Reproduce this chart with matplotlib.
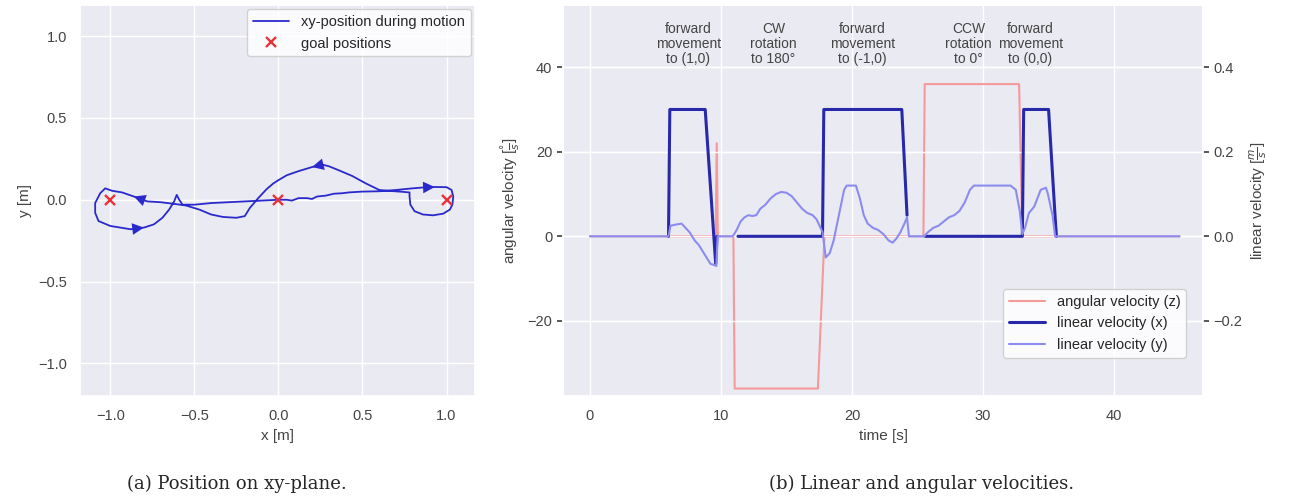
import numpy as np
import matplotlib
matplotlib.use('Agg')
import matplotlib.pyplot as plt
import seaborn as sns

sns.set_theme(style='darkgrid')
plt.rcParams['font.family'] = ['Liberation Sans', 'DejaVu Sans']

# xy trajectory (odometry), in order of travel
path_x = [0.0, 0.05, 0.08, 0.12, 0.17, 0.2, 0.23, 0.28, 0.33, 0.38, 0.42, 0.5, 0.6, 0.7, 0.8, 0.86, 0.93, 1.0,
          1.03, 1.04, 1.035, 1.02, 0.98, 0.92, 0.86, 0.81, 0.785, 0.78, 0.78,
          0.72, 0.65, 0.6, 0.52, 0.44, 0.36, 0.3, 0.26, 0.2, 0.12, 0.05, 0.0, -0.03, -0.07, -0.12, -0.17, -0.2,
          -0.25, -0.33, -0.4, -0.47, -0.55, -0.62, -0.7, -0.78, -0.86, -0.93, -0.99, -1.03,
          -1.06, -1.09, -1.09, -1.07, -1.0, -0.94, -0.88, -0.8, -0.74, -0.69, -0.65, -0.62, -0.605,
          -0.59, -0.57, -0.5, -0.4, -0.3, -0.2, -0.1, 0.0]
path_y = [0.0, 0.0, -0.005, 0.01, 0.01, 0.005, 0.02, 0.025, 0.037, 0.04, 0.045, 0.05, 0.052, 0.06, 0.07, 0.075, 0.078, 0.077,
          0.06, 0.02, -0.03, -0.06, -0.085, -0.095, -0.09, -0.07, -0.03, 0.02, 0.045,
          0.05, 0.055, 0.06, 0.1, 0.145, 0.18, 0.205, 0.215, 0.2, 0.175, 0.15, 0.12, 0.1, 0.065, 0.01, -0.05, -0.1,
          -0.11, -0.105, -0.09, -0.06, -0.035, -0.025, -0.015, -0.01, 0.02, 0.045, 0.055, 0.07,
          0.04, -0.02, -0.08, -0.13, -0.16, -0.17, -0.18, -0.17, -0.15, -0.11, -0.06, -0.01, 0.03,
          0.0, -0.03, -0.03, -0.02, -0.015, -0.01, -0.005, 0.0]
arrow_idx = [15, 36, 53, 64]  # points where the direction arrows sit

goal_x = [1.0, -1.0, 0.0]
goal_y = [0.0, 0.0, 0.0]

# angular velocity z [deg/s]
t_z = [0, 9.6, 9.68, 9.76, 10.95, 11.05, 17.4, 17.9, 25.45, 25.55, 32.75, 33.0, 45]
w_z = [0, 0, 22, 0, 0, -36, -36, 0, 0, 36, 36, 0, 0]

# linear velocity x [m/s] (nan = not logged)
t_vx = [6.0, 6.1, 8.8, 9.6, 9.7, 9.75, 11.3, 17.75, 17.85, 23.8, 24.2, 24.25, 25.6, 33.0, 33.1, 35.0, 35.5, 35.6]
v_x = [0, 0.3, 0.3, -0.065, 0, np.nan, 0, 0, 0.3, 0.3, 0.05, np.nan, 0, 0, 0.3, 0.3, 0.046, 0]

# linear velocity y [m/s]
t_vy = [0, 6.0, 6.15, 6.6, 7.0, 7.3, 7.6, 8.0, 8.3, 8.6, 9.0, 9.2, 9.5, 9.65, 9.75, 10.9, 11.2, 11.5, 11.8,
        12.1, 12.4, 12.7, 13.0, 13.4, 13.8, 14.2, 14.6, 15.0, 15.4, 15.8, 16.2, 16.6, 17.0, 17.3, 17.6, 17.75,
        18.0, 18.3, 18.6, 19.0, 19.4, 19.6, 20.3, 20.6, 20.9, 21.2, 21.6, 22.0, 22.4, 22.8, 23.1, 23.4, 23.7,
        24.0, 24.2, 24.35, 25.5, 25.8, 26.2, 26.6, 27.0, 27.4, 27.8, 28.2, 28.6, 29.0, 29.3, 32.1, 32.5, 32.8,
        33.0, 33.2, 33.5, 33.9, 34.4, 34.8, 34.95, 35.3, 35.5, 45]
v_y = [0, 0, 0.025, 0.028, 0.03, 0.02, 0.01, -0.01, -0.02, -0.035, -0.055, -0.065, -0.068, -0.07, 0.0, 0.0,
       0.015, 0.035, 0.045, 0.05, 0.048, 0.05, 0.065, 0.075, 0.09, 0.1, 0.105, 0.103, 0.095, 0.08, 0.065, 0.055,
       0.05, 0.04, 0.02, 0.01, -0.05, -0.04, -0.01, 0.05, 0.11, 0.12, 0.12, 0.09, 0.05, 0.03, 0.02, 0.015, 0.005,
       -0.01, -0.015, -0.005, 0.01, 0.03, 0.045, 0.0, 0.0, 0.01, 0.02, 0.025, 0.035, 0.045, 0.05, 0.06, 0.08,
       0.11, 0.12, 0.12, 0.11, 0.06, 0.005, 0.02, 0.055, 0.07, 0.11, 0.115, 0.1, 0.05, 0.0, 0.0]

phase_t = [7.5, 14.0, 20.8, 28.9, 33.6]
phase_labels = ['forward\nmovement\nto (1,0)', 'CW\nrotation\nto 180°', 'forward\nmovement\nto (-1,0)',
                'CCW\nrotation\nto 0°', 'forward\nmovement\nto (0,0)']

txt = '#444444'
fig = plt.figure(figsize=(12.91, 5.04), dpi=100)

# (a) xy-plane
ax1 = fig.add_axes([0.062, 0.214, 0.306, 0.776])
path_col = '#2a2acc'
ax1.plot(path_x, path_y, color=path_col, lw=1.3, label='xy-position during motion')
for i in arrow_idx:
    ax1.annotate('', xy=(path_x[i + 1], path_y[i + 1]), xytext=(path_x[i], path_y[i]),
                 arrowprops=dict(arrowstyle='-|>', color=path_col, lw=0, mutation_scale=21,
                                 shrinkA=0, shrinkB=0))
ax1.plot(goal_x, goal_y, 'x', color='#e8333a', ms=6.5, mew=1.7, ls='none', label='goal positions')
ax1.set_xlim(-1.18, 1.17)
ax1.set_ylim(-1.2, 1.19)
ax1.set_xticks([-1.0, -0.5, 0.0, 0.5, 1.0])
ax1.set_yticks([-1.0, -0.5, 0.0, 0.5, 1.0])
ax1.set_xlabel('x [m]', fontsize=11, color=txt)
ax1.set_ylabel('y [m]', fontsize=11, color=txt)
ax1.tick_params(labelsize=10.5, labelcolor=txt)
ax1.legend(loc='upper right', fontsize=10.5, facecolor='white', framealpha=0.85, borderaxespad=0.3,
           handlelength=2.5)

# (b) velocities
ax2 = fig.add_axes([0.436, 0.214, 0.496, 0.776])
ax3 = ax2.twinx()
l1, = ax2.plot(t_z, w_z, color='#f49a9a', lw=1.5, label='angular velocity (z)')
l2, = ax3.plot(t_vx, v_x, color='#2828aa', lw=2.2, label='linear velocity (x)')
l3, = ax3.plot(t_vy, v_y, color='#8c8cf0', lw=1.5, label='linear velocity (y)')
ax2.set_xlim(-2.06, 46.8)
ax2.set_ylim(-37.8, 54.7)
ax3.set_ylim(-0.378, 0.547)
ax2.set_xticks([0, 10, 20, 30, 40])
ax2.set_yticks([-20, 0, 20, 40])
ax3.set_yticks([-0.2, 0.0, 0.2, 0.4])
ax2.set_xlabel('time [s]', fontsize=11, color=txt)
ax2.set_ylabel(r'angular velocity [$\frac{°}{s}$]', fontsize=11, color=txt)
ax3.set_ylabel(r'linear velocity [$\frac{m}{s}$]', fontsize=11, color=txt)
ax2.tick_params(labelsize=10.5, labelcolor=txt)
ax2.tick_params(axis='y', length=4, color=txt)
ax3.tick_params(axis='y', labelsize=10.5, labelcolor=txt, length=4, color=txt)
for t, lab in zip(phase_t, phase_labels):
    ax2.text(t, 40.3, lab, ha='center', va='bottom', fontsize=10, color=txt, linespacing=1.1)
ax3.legend(handles=[l1, l2, l3], loc='lower right', bbox_to_anchor=(0.985, 0.08), fontsize=10.5,
           facecolor='white', framealpha=0.85, handlelength=2.5)

fig.text(0.098, 0.03, '(a) Position on xy-plane.', fontsize=13, family='DejaVu Serif')
fig.text(0.596, 0.03, '(b) Linear and angular velocities.', fontsize=13, family='DejaVu Serif')

fig.savefig('out.png', dpi=100)
